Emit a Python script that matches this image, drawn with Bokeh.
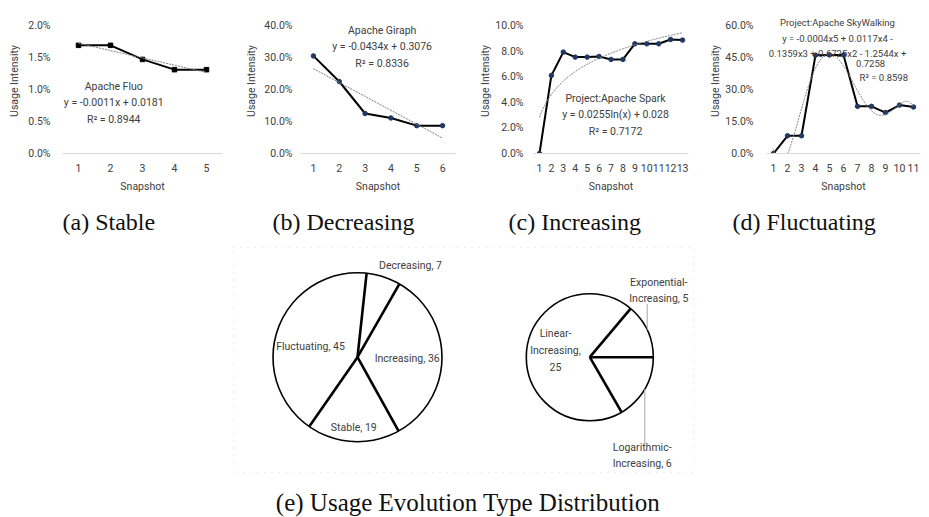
import numpy as np
from bokeh.plotting import figure
from bokeh.models import Range1d, FixedTicker, NumeralTickFormatter, Label
from bokeh.layouts import row, column
from bokeh.embed import file_html
from bokeh.resources import INLINE

# ---------------- data ----------------
fluo_x = [1, 2, 3, 4, 5]
fluo_y = [0.0169, 0.0169, 0.0147, 0.0131, 0.0131]

giraph_x = [1, 2, 3, 4, 5, 6]
giraph_y = [0.305, 0.225, 0.125, 0.111, 0.087, 0.087]

spark_x = [1, 2, 3, 4, 5, 6, 7, 8, 9, 10, 11, 12, 13]
spark_y = [0.0, 0.061, 0.0792, 0.0753, 0.0753, 0.0758, 0.0735, 0.0735,
           0.0857, 0.0857, 0.0857, 0.0891, 0.0886]

sky_x = [1, 2, 3, 4, 5, 6, 7, 8, 9, 10, 11]
sky_y = [0.0, 0.083, 0.083, 0.461, 0.462, 0.462, 0.221, 0.221, 0.192, 0.227, 0.218]

fluo_ticks = [0.0, 0.005, 0.01, 0.015, 0.02]
giraph_ticks = [0.0, 0.1, 0.2, 0.3, 0.4]
spark_ticks = [0.0, 0.02, 0.04, 0.06, 0.08, 0.10]
sky_ticks = [0.0, 0.15, 0.30, 0.45, 0.60]

type_names = ["Decreasing", "Increasing", "Stable", "Fluctuating"]
type_counts = [7, 36, 19, 45]
inc_names = ["Exponential-Increasing", "Logarithmic-Increasing", "Linear-Increasing"]
inc_counts = [5, 6, 25]

fluo_text = "Apache Fluo\ny = -0.0011x + 0.0181\nR² = 0.8944"
giraph_text = "Apache Giraph\ny = -0.0434x + 0.3076\nR² = 0.8336"
spark_text = "Project:Apache Spark\ny = 0.0255ln(x) + 0.028\nR² = 0.7172"
sky_text = "Project:Apache SkyWalking\ny = -0.0004x5 + 0.0117x4 -\n0.1359x3 + 0.6725x2 - 1.2544x +"
sky_text2 = "0.7258"
sky_text3 = "R² = 0.8598"
caption_e = "(e) Usage Evolution Type Distribution"

FONT = "Roboto"
FS = "10.5px"
TXT = "#404040"
SERIF = "Liberation Serif"
CAP_SIZE = "24px"

# the axis top (last tick) sits 128 px above the baseline; the frame is 145 px tall
TOP_PAD = 145.0 / 128.0


def panel(width, left, right, xs, ys, yend, yticks, caption, cap_offset, marker,
          ystand, ylabstand):
    n = len(xs)
    p = figure(width=width, height=246, output_backend="svg", toolbar_location=None,
               x_range=Range1d(0.5, n + 0.5), y_range=Range1d(0, yend * TOP_PAD),
               min_border_left=left, min_border_right=right,
               min_border_top=8, min_border_bottom=93,
               title=caption, title_location="below")
    p.xaxis.ticker = FixedTicker(ticks=list(xs))
    p.yaxis.ticker = FixedTicker(ticks=yticks)
    p.yaxis.formatter = NumeralTickFormatter(format="0.0%")
    p.xaxis.axis_label = "Snapshot"
    p.yaxis.axis_label = "Usage Intensity"
    for ax in (p.xaxis[0], p.yaxis[0]):
        ax.major_tick_line_color = None
        ax.minor_tick_line_color = None
        ax.major_tick_out = 0
        ax.major_tick_in = 0
        ax.minor_tick_out = 0
        ax.minor_tick_in = 0
        ax.major_label_text_font = FONT
        ax.major_label_text_font_size = FS
        ax.major_label_text_color = TXT
        ax.axis_label_text_font = FONT
        ax.axis_label_text_font_size = FS
        ax.axis_label_text_font_style = "normal"
        ax.axis_label_text_color = TXT
    p.yaxis.axis_line_color = None
    p.yaxis.major_label_standoff = ystand
    p.yaxis.axis_label_standoff = ylabstand
    p.xaxis.axis_line_color = "#d9d9d9"
    p.xaxis.major_label_standoff = 10
    p.xaxis.axis_label_standoff = 5
    p.grid.grid_line_color = None
    p.outline_line_color = None
    p.title.text_font = SERIF
    p.title.text_font_size = CAP_SIZE
    p.title.text_font_style = "normal"
    p.title.text_color = "#111111"
    p.title.align = "left"
    p.title.offset = cap_offset
    p.title.standoff = 22
    p.line(xs, ys, line_color="black", line_width=2)
    if marker == "square":
        p.scatter(xs, ys, marker="square", size=4.5, color="black")
    else:
        p.scatter(xs, ys, marker="circle", size=4.5, color="#1f3864")
    return p


def add_label(p, x, y, text, align="center", baseline="top", size=FS, lh=1.27,
              font=FONT, color=TXT):
    p.add_layout(Label(x=x, y=y, text=text, text_align=align, text_baseline=baseline,
                       text_font=font, text_font_size=size, text_color=color,
                       text_line_height=lh))


# (a)
pa = panel(240, 62, 18, fluo_x, fluo_y, 0.02, fluo_ticks, "(a) Stable", 0, "square", 12, 4)
ca = np.polyfit(fluo_x, fluo_y, 1)
tx = np.array([fluo_x[0], fluo_x[-1]])
pa.line(tx, np.polyval(ca, tx), line_color="#808080", line_width=1, line_dash="2 1")
add_label(pa, 2.1, 0.0115, fluo_text)

# (b)
pb = panel(230, 60, 15, giraph_x, giraph_y, 0.4, giraph_ticks, "(b) Decreasing", -28, "circle", 8, 3)
cb = np.polyfit(giraph_x, giraph_y, 1)
tx = np.array([giraph_x[0], giraph_x[-1]])
pb.line(tx, np.polyval(cb, tx), line_color="#808080", line_width=1, line_dash="2 1")
add_label(pb, 3.66, 0.405, giraph_text)

# (c)
pc = panel(230, 63, 12, spark_x, spark_y, 0.10, spark_ticks, "(c) Increasing", -25, "circle", 10, 0)
cc = np.polyfit(np.log(spark_x), spark_y, 1)
tx = np.linspace(spark_x[0], spark_x[-1], 120)
pc.line(tx, np.polyval(cc, np.log(tx)), line_color="#808080", line_width=1, line_dash="2 1")
add_label(pc, 7.38, 0.0484, spark_text)

# (d)
pd_ = panel(229, 66, 9, sky_x, sky_y, 0.60, sky_ticks, "(d) Fluctuating", -34, "circle", 13, 0)
cd = np.polyfit(sky_x, sky_y, 5)
tx = np.linspace(sky_x[0], sky_x[-1], 200)
ty = np.polyval(cd, tx)
pd_.line(tx, ty, line_color="#808080", line_width=1, line_dash="2 1")
add_label(pd_, 5.57, 0.639, sky_text, size="9.5px", lh=1.4)
add_label(pd_, 7.93, 0.4205, sky_text2, baseline="middle", size="9.5px")
add_label(pd_, 8.88, 0.3577, sky_text3, baseline="middle", size="9.5px")

# (e) pies
pe = figure(width=929, height=271, output_backend="svg", toolbar_location=None,
            x_range=Range1d(0, 929), y_range=Range1d(-29, 242),
            x_axis_location=None, y_axis_location=None,
            min_border_left=0, min_border_right=0, min_border_top=0, min_border_bottom=0)
pe.grid.grid_line_color = None
pe.outline_line_color = None

pe.quad(left=[233], right=[693], bottom=[16], top=[241], fill_color=None,
        line_color="#d8d8d8", line_dash="1 6", line_width=1)


def pie(p, cx, cy, r, counts, start_deg):
    counts = np.array(counts, dtype=float)
    edges = start_deg + 360.0 * np.concatenate([[0], np.cumsum(counts)]) / counts.sum()
    ang = np.radians(90.0 - edges)
    p.wedge(x=cx, y=cy, radius=r, start_angle=ang[:-1], end_angle=ang[1:],
            direction="clock", fill_color="white", line_color=None)
    p.circle(x=[cx], y=[cy], radius=r, fill_color=None, line_color="black", line_width=1.6)
    a = ang[:-1]
    p.segment(x0=[cx] * len(a), y0=[cy] * len(a), x1=cx + r * np.cos(a), y1=cy + r * np.sin(a),
              line_color="black", line_width=2.6)


pie(pe, 357, 131.3, 84.5, type_counts, 6.2)
pie(pe, 589.3, 131.3, 63.5, inc_counts, 40.0)

lab = {n: f"{n}, {c}" for n, c in zip(type_names, type_counts)}
add_label(pe, 410, 223, lab["Decreasing"], baseline="middle")
add_label(pe, 406.7, 130.3, lab["Increasing"], baseline="middle")
add_label(pe, 353.3, 61.3, lab["Stable"], baseline="middle")
add_label(pe, 310, 142, lab["Fluctuating"], baseline="middle")
add_label(pe, 555, 138, f"Linear-\nIncreasing,\n{inc_counts[2]}", baseline="middle")
add_label(pe, 658.3, 198, f"Exponential-\nIncreasing, {inc_counts[0]}", baseline="middle")
add_label(pe, 641.7, 33, f"Logarithmic-\nIncreasing, {inc_counts[1]}", baseline="middle")
pe.segment(x0=[646.7, 644.3], y0=[184.7, 99.6], x1=[646.7, 644.3], y1=[158.5, 44.7],
           line_color="#a6a6a6", line_width=1)

add_label(pe, 467.5, -14, caption_e, baseline="middle", size="25px", font=SERIF,
          color="#111111", lh=1.0)

layout = column(row(pa, pb, pc, pd_), pe)
open("out.html", "w").write(file_html(layout, INLINE))
